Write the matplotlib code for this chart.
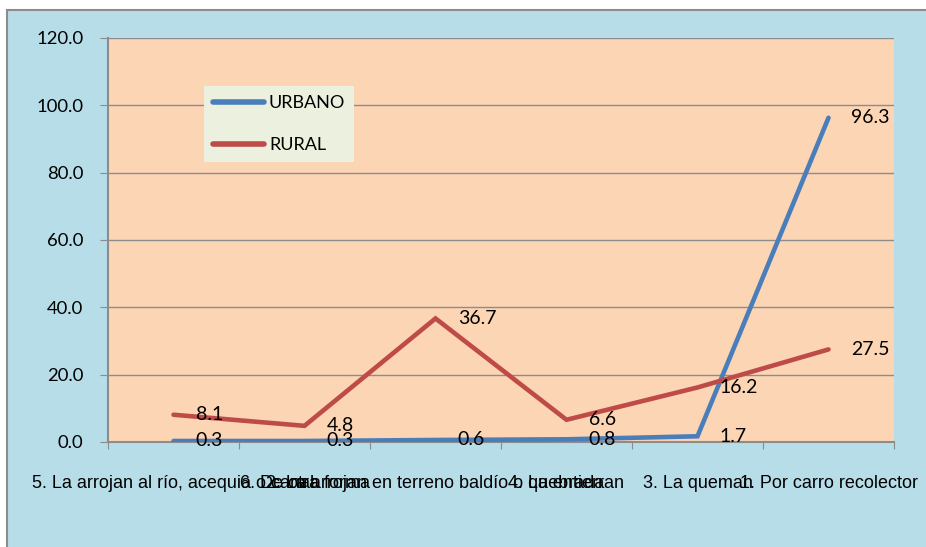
"""
Destino de la basura: URBANO vs RURAL (porcentaje de hogares).
"""
import matplotlib
matplotlib.use("Agg")
import matplotlib.pyplot as plt
from matplotlib.patches import Rectangle

categorias = [
    "5. La arrojan al río, acequia o canal",
    "6. De otra forma",
    "2. La arrojan en terreno baldío o quebrada",
    "4. La entierran",
    "3. La queman",
    "1. Por carro recolector",
]
urbano = [0.3, 0.3, 0.6, 0.8, 1.7, 96.3]
rural = [8.1, 4.8, 36.7, 6.6, 16.2, 27.5]
y_ticks = [0, 20, 40, 60, 80, 100, 120]

AZUL = "#4a7ebb"
ROJO = "#be4b48"
FONDO = "#b7dde8"
AREA = "#fcd5b4"
GRIS = "#8c8c8c"

fig = plt.figure(figsize=(9.26, 5.47), dpi=100)
fig.patch.set_facecolor("white")
# marco exterior del gráfico
fig.patches.append(Rectangle((7 / 926, -0.05), 1.1, 1 - 10 / 547 + 0.05,
                             transform=fig.transFigure, facecolor=FONDO,
                             edgecolor=GRIS, linewidth=1.5, zorder=-10))

ax = fig.add_axes([108 / 926, 1 - 442 / 547, (894 - 108) / 926, (442 - 38) / 547])
ax.set_facecolor(AREA)

x = list(range(len(categorias)))
ax.plot(x, urbano, color=AZUL, lw=3.3, solid_capstyle="round", solid_joinstyle="miter",
        label="URBANO", zorder=3)
ax.plot(x, rural, color=ROJO, lw=3.3, solid_capstyle="round", solid_joinstyle="miter",
        label="RURAL", zorder=3)

num_font = "Lato"
for serie in (urbano, rural):
    for xi, v in zip(x, serie):
        ax.annotate(f"{v:.1f}", (xi, v), xytext=(16, 0), textcoords="offset points",
                    ha="left", va="center", fontsize=14, family=num_font, zorder=4)

ax.set_xlim(-0.5, len(categorias) - 0.5)
ax.set_ylim(0, 120)
ax.set_yticks(y_ticks)
ax.set_yticklabels([f"{t:.1f}" for t in y_ticks], family=num_font, fontsize=13.3)
ax.grid(axis="y", color=GRIS, lw=1)
ax.set_axisbelow(True)

# marcas en los límites de categoría, etiquetas en el centro
ax.set_xticks([i - 0.5 for i in range(len(categorias) + 1)])
ax.set_xticklabels([])
ax.set_xticks(x, minor=True)
ax.set_xticklabels(categorias, minor=True, family="Liberation Sans", fontsize=13)
ax.tick_params(axis="x", which="major", length=5, color=GRIS, direction="out")
ax.tick_params(axis="x", which="minor", length=0, pad=24)
ax.tick_params(axis="y", length=5.8, color=GRIS, pad=12)

for s in ["top", "right"]:
    ax.spines[s].set_visible(False)
for s in ["left", "bottom"]:
    ax.spines[s].set_color(GRIS)
    ax.spines[s].set_linewidth(1.5)

leg = ax.legend(loc="upper left", bbox_to_anchor=((204 - 108) / 786, 1 - (86 - 38) / 404),
                frameon=True, fancybox=False, prop={"family": num_font, "size": 13},
                handlelength=2.8, handletextpad=0.3, labelspacing=1.45,
                borderpad=0.5, borderaxespad=0)
leg.get_frame().set_facecolor("#ebf1de")
leg.get_frame().set_edgecolor("none")
leg.get_frame().set_alpha(1)
for h in leg.get_lines():
    h.set_linewidth(4)

fig.savefig("out.png", dpi=100)
